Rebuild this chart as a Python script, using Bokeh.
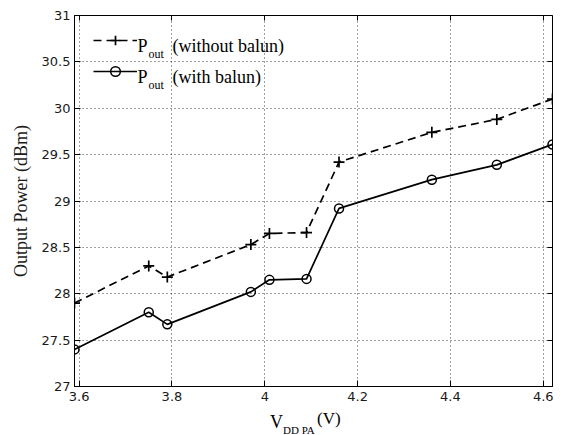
from bokeh.plotting import figure
from bokeh.layouts import column
from bokeh.models import Range1d, LinearAxis, FixedTicker, Label, Legend, LegendItem, Div
from bokeh.embed import file_html
from bokeh.resources import INLINE

# ---- data ----
vdd_pa = [3.59, 3.75, 3.79, 3.97, 4.01, 4.09, 4.16, 4.36, 4.50, 4.62]
pout_without_balun = [27.90, 28.30, 28.18, 28.53, 28.65, 28.66, 29.42, 29.74, 29.88, 30.10]
pout_with_balun = [27.40, 27.80, 27.67, 28.02, 28.15, 28.16, 28.92, 29.23, 29.39, 29.61]

x_ticks = [3.6, 3.8, 4.0, 4.2, 4.4, 4.6]
x_tick_labels = ["3.6", "3.8", "4", "4.2", "4.4", "4.6"]
y_ticks = [27, 27.5, 28, 28.5, 29, 29.5, 30, 30.5, 31]
y_tick_labels = ["27", "27.5", "28", "28.5", "29", "29.5", "30", "30.5", "31"]
legend_main = ["P", "P"]
legend_sub = ["out", "out"]
legend_rest = ["(without balun)", "(with balun)"]
x_label_parts = ["V", "DD PA", "(V)"]
y_label = "Output Power (dBm)"

SERIF = "Liberation Serif"
SANS = "DejaVu Sans"

p = figure(width=569, height=410, output_backend="svg", toolbar_location=None,
           x_range=Range1d(3.59, 4.62), y_range=Range1d(27, 31),
           min_border_left=74, min_border_right=17, min_border_top=15, min_border_bottom=24,
           background_fill_color="white", border_fill_color="white",
           outline_line_color="black", outline_line_width=1, margin=0)

for ax, ticks, labels in ((p.xaxis[0], x_ticks, x_tick_labels), (p.yaxis[0], y_ticks, y_tick_labels)):
    ax.ticker = FixedTicker(ticks=ticks)
    ax.major_label_overrides = {t: l for t, l in zip(ticks, labels)}
    ax.major_tick_in = 6
    ax.major_tick_out = 0
    ax.minor_tick_line_color = None
    ax.axis_line_color = "black"
    ax.major_tick_line_color = "black"
    ax.major_label_text_font = SANS
    ax.major_label_text_font_size = "13px"
    ax.major_label_text_color = "#1a1a1a"

p.xaxis[0].major_label_standoff = 5
p.yaxis[0].major_label_standoff = 4
p.yaxis[0].axis_label = y_label
p.yaxis[0].axis_label_text_font = SERIF
p.yaxis[0].axis_label_text_font_size = "18px"
p.yaxis[0].axis_label_text_font_style = "normal"
p.yaxis[0].axis_label_text_color = "#1a1a1a"
p.yaxis[0].axis_label_standoff = 8

for loc, ticks in (("above", x_ticks), ("right", y_ticks)):
    ax = LinearAxis(ticker=FixedTicker(ticks=ticks), major_label_text_font_size="0px",
                    major_label_standoff=0, major_tick_in=5, major_tick_out=0,
                    minor_tick_line_color=None, axis_line_color=None,
                    major_tick_line_color="black")
    ax.major_label_overrides = {t: "" for t in ticks}
    p.add_layout(ax, loc)

for g, ticks in ((p.xgrid[0], x_ticks), (p.ygrid[0], y_ticks)):
    g.ticker = FixedTicker(ticks=ticks)
    g.grid_line_color = "black"
    g.grid_line_alpha = 0.75
    g.grid_line_dash = "1 3"
    g.grid_line_width = 1

r1 = p.line(vdd_pa, pout_without_balun, line_color="black", line_width=1.7, line_dash="8 5")
s1 = p.scatter(vdd_pa, pout_without_balun, marker="cross", size=11, line_color="black", line_width=1.7)
r2 = p.line(vdd_pa, pout_with_balun, line_color="black", line_width=1.7)
s2 = p.scatter(vdd_pa, pout_with_balun, marker="circle", size=9, line_color="black",
               fill_color=None, line_width=1.5)

legend = Legend(items=[LegendItem(label=" ", renderers=[r1, s1]),
                       LegendItem(label=" ", renderers=[r2, s2])],
                location=(19, 303), glyph_width=44, glyph_height=24, label_height=24,
                label_width=1, label_text_font_size="1px", label_standoff=0,
                padding=0, margin=0, spacing=7,
                border_line_alpha=0, background_fill_alpha=0)
p.add_layout(legend)


def lab(text, x, y, size):
    p.add_layout(Label(x=x, y=y, x_units="screen", y_units="screen", text=text,
                       text_font=SERIF, text_font_size=size, text_baseline="alphabetic",
                       text_align="left", text_color="black"))


row_y = [341, 310]
for i in range(2):
    lab(legend_main[i], 63, row_y[i], "18px")
    lab(legend_sub[i], 74, row_y[i] - 8.5, "12px")
    lab(legend_rest[i], 98, row_y[i], "18px")

# x-axis label with subscript, as HTML text below the plot
span = "position:absolute;white-space:nowrap;line-height:1;"
xlabel_html = (
    f'<div style="position:relative;width:569px;height:25px;font-family:\'{SERIF}\';color:#000;">'
    f'<span style="{span}left:270px;top:3px;font-size:18px;">{x_label_parts[0]}</span>'
    f'<span style="{span}left:283px;top:15px;font-size:11px;">{x_label_parts[1]}</span>'
    f'<span style="{span}left:317px;top:0px;font-size:17px;">{x_label_parts[2]}</span>'
    '</div>'
)
xlabel = Div(text=xlabel_html, width=569, height=25, margin=0)

layout = column(p, xlabel, spacing=0, margin=0)
open("out.html", "w").write(file_html(layout, INLINE))
